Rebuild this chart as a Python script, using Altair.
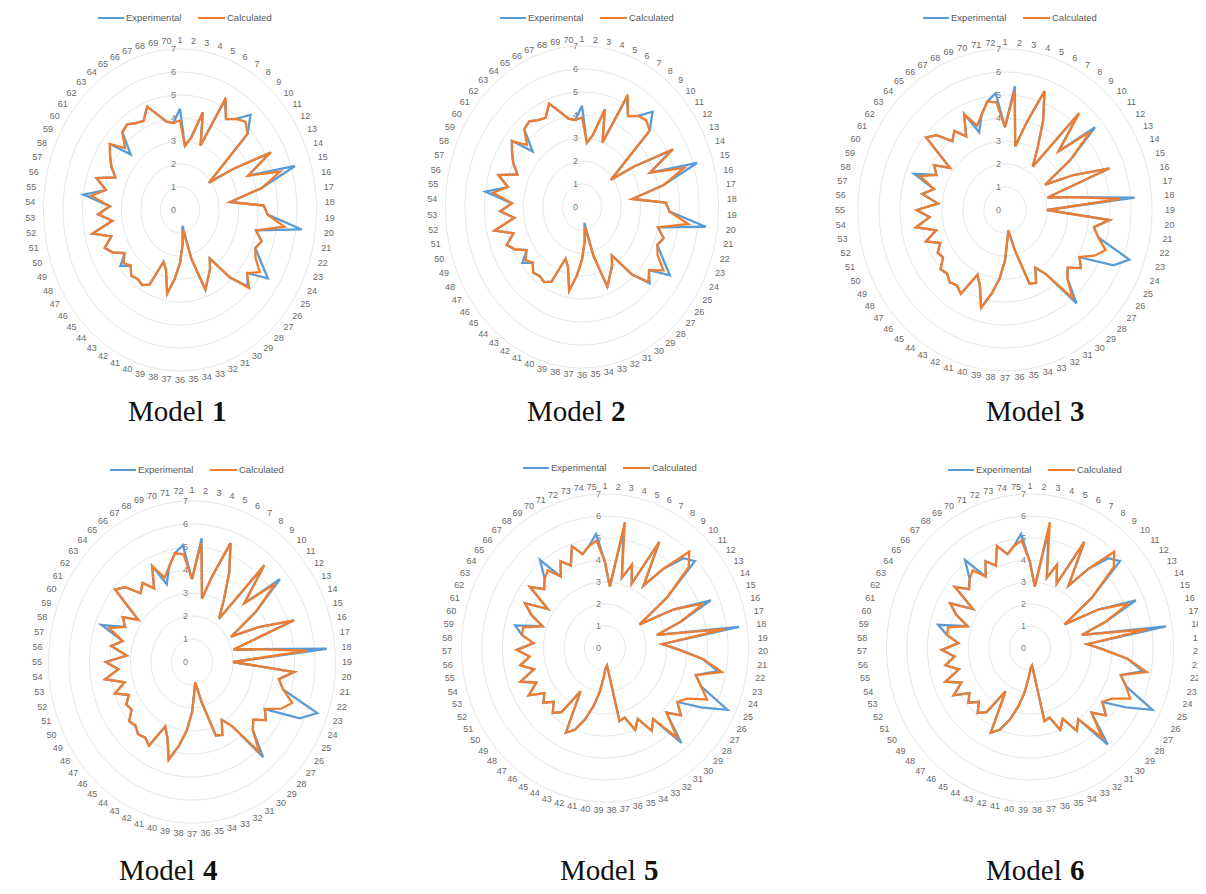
import altair as alt
import pandas as pd

# ---------------- data ----------------
m1_exp = [4.4, 2.8, 3.2, 4.4, 3.0, 5.3, 4.6, 4.9, 5.5, 4.8, 1.9, 3.2, 5.2, 3.8, 6.2, 4.3, 2.6, 4.3, 4.5, 6.3,
          4.0, 4.4, 4.2, 4.7, 5.4, 4.4, 4.8, 3.9, 2.6, 3.0, 3.3, 3.7, 2.2, 0.7, 1.5, 2.3, 3.0, 3.7, 2.7, 2.4,
          3.6, 3.8, 3.7, 3.8, 3.5, 3.9, 3.4, 3.9, 4.2, 3.7, 4.6, 3.5, 4.2, 3.6, 5.0, 3.9, 4.5, 3.6, 4.0, 4.3,
          4.6, 3.5, 4.5, 4.6, 4.4, 4.3, 4.8, 4.3, 3.9, 3.8]
m1_calc = [3.9, 2.8, 3.2, 4.4, 3.0, 5.4, 4.6, 4.9, 5.1, 4.8, 1.9, 3.2, 5.3, 3.8, 5.4, 4.3, 2.6, 4.3, 4.5, 5.4,
           4.0, 4.4, 4.2, 4.4, 4.9, 4.4, 4.9, 3.9, 2.6, 3.0, 3.3, 3.7, 2.2, 0.9, 1.5, 2.3, 3.0, 3.7, 2.7, 2.4,
           3.6, 3.8, 3.7, 3.8, 3.5, 3.7, 3.4, 3.9, 4.2, 3.7, 4.6, 3.5, 4.2, 3.6, 4.6, 3.9, 4.5, 3.6, 4.0, 4.3,
           4.6, 3.9, 4.5, 4.6, 4.4, 4.3, 4.8, 4.3, 3.9, 3.8]
m2_exp = [4.4, 2.8, 3.2, 4.4, 3.0, 5.3, 4.6, 4.9, 5.5, 4.8, 1.9, 3.2, 5.2, 3.8, 6.2, 4.3, 2.6, 4.3, 4.5, 6.4,
          4.0, 4.4, 4.2, 4.7, 5.4, 4.4, 4.8, 3.9, 2.6, 3.0, 3.3, 3.7, 2.2, 0.7, 1.5, 2.3, 3.0, 3.7, 2.7, 2.4,
          3.6, 3.8, 3.7, 3.8, 3.5, 3.9, 3.4, 3.9, 4.2, 3.7, 4.6, 3.5, 4.2, 3.6, 5.0, 3.9, 4.5, 3.6, 4.0, 4.3,
          4.6, 3.5, 4.5, 4.6, 4.4, 4.3, 4.8, 4.3, 3.9, 3.8]
m2_calc = [3.9, 2.8, 3.2, 4.4, 3.0, 5.4, 4.6, 4.9, 5.0, 4.8, 1.9, 3.2, 5.3, 3.8, 5.5, 4.3, 2.6, 4.3, 4.5, 5.5,
           4.0, 4.4, 4.2, 4.4, 5.0, 4.4, 4.7, 3.9, 2.6, 3.0, 3.3, 3.7, 2.2, 0.9, 1.5, 2.3, 3.0, 3.7, 2.7, 2.4,
           3.6, 3.8, 3.7, 3.8, 3.5, 3.7, 3.4, 3.9, 4.2, 3.7, 4.6, 3.5, 4.2, 3.6, 4.6, 3.9, 4.5, 3.6, 4.0, 4.3,
           4.6, 3.9, 4.5, 4.6, 4.4, 4.3, 4.8, 4.3, 3.9, 3.8]
m3_exp = [3.6, 5.4, 2.8, 3.9, 5.5, 4.3, 3.1, 2.3, 5.4, 3.6, 5.6, 3.8, 2.2, 3.6, 5.3, 2.1, 3.2, 6.2, 2.0, 5.0,
          4.3, 4.6, 6.3, 5.7, 4.1, 4.4, 3.9, 4.2, 5.3, 3.4, 2.9, 3.5, 3.4, 1.8, 0.9, 1.3, 2.2, 3.0, 3.7, 4.4,
          3.5, 3.1, 4.2, 4.0, 4.1, 3.9, 4.0, 3.6, 3.7, 3.4, 4.0, 3.4, 4.3, 3.6, 4.2, 3.2, 4.0, 3.5, 4.6, 3.6,
          3.9, 3.2, 4.9, 4.6, 3.9, 4.2, 3.7, 4.6, 3.6, 4.3, 4.8, 5.1]
m3_calc = [3.6, 5.2, 2.8, 3.9, 5.5, 4.3, 3.1, 2.3, 5.5, 3.6, 5.3, 3.8, 2.2, 3.6, 5.3, 2.1, 3.2, 5.5, 2.0, 5.0,
           4.3, 4.6, 5.1, 4.7, 4.1, 4.4, 3.9, 4.2, 5.0, 3.4, 2.9, 3.5, 3.4, 1.8, 0.9, 1.3, 2.2, 3.0, 3.7, 4.4,
           3.5, 3.1, 4.2, 4.0, 4.1, 3.9, 4.0, 3.6, 3.7, 3.4, 4.0, 3.4, 4.3, 3.6, 4.2, 3.2, 4.0, 3.5, 4.3, 3.6,
           3.9, 3.2, 4.9, 4.6, 3.9, 4.2, 3.7, 4.6, 3.9, 4.3, 4.8, 4.7]
m4_exp = [3.6, 5.4, 2.8, 3.9, 5.5, 4.3, 3.1, 2.3, 5.4, 3.6, 5.6, 3.8, 2.2, 3.6, 5.3, 2.1, 3.2, 6.6, 2.0, 5.0,
          4.3, 4.6, 6.5, 5.8, 4.1, 4.4, 3.9, 4.2, 5.4, 3.4, 2.9, 3.5, 3.4, 1.8, 0.9, 1.3, 2.2, 3.0, 3.7, 4.4,
          3.5, 3.1, 4.2, 4.0, 4.1, 3.9, 4.0, 3.6, 3.7, 3.4, 4.0, 3.4, 4.3, 3.6, 4.2, 3.2, 4.0, 3.5, 4.7, 3.6,
          3.9, 3.2, 4.9, 4.6, 3.9, 4.2, 3.7, 4.6, 3.6, 4.3, 4.8, 5.1]
m4_calc = [3.6, 5.2, 2.8, 3.9, 5.5, 4.3, 3.1, 2.3, 5.5, 3.6, 5.3, 3.8, 2.2, 3.6, 5.3, 2.1, 3.2, 5.6, 2.0, 5.0,
           4.3, 4.6, 5.2, 4.8, 4.1, 4.4, 3.9, 4.2, 5.1, 3.4, 2.9, 3.5, 3.4, 1.8, 0.9, 1.3, 2.2, 3.0, 3.7, 4.4,
           3.5, 3.1, 4.2, 4.0, 4.1, 3.9, 4.0, 3.6, 3.7, 3.4, 4.0, 3.4, 4.3, 3.6, 4.2, 3.2, 4.0, 3.5, 4.3, 3.6,
           3.9, 3.2, 4.9, 4.6, 3.9, 4.2, 3.7, 4.6, 3.9, 4.3, 4.8, 4.7]
m5_exp = [3.9, 2.8, 5.4, 3.3, 4.0, 3.2, 5.5, 3.4, 4.6, 5.6, 5.9, 3.8, 2.0, 3.8, 5.6, 3.9, 2.6, 6.6, 2.8, 3.6,
          4.8, 5.6, 4.6, 5.0, 6.6, 5.4, 4.3, 4.8, 4.2, 5.7, 4.0, 4.4, 3.6, 4.0, 3.3, 3.4, 0.8, 0.9, 1.3, 2.0,
          2.7, 3.4, 4.0, 4.3, 2.3, 3.6, 3.9, 3.5, 3.9, 3.6, 4.3, 3.7, 4.4, 3.6, 4.2, 3.7, 4.3, 3.5, 4.1, 4.5,
          3.2, 3.9, 4.4, 3.3, 4.6, 4.0, 4.3, 5.1, 3.9, 4.5, 4.1, 4.9, 4.4, 4.7, 5.2]
m5_calc = [3.9, 2.8, 5.8, 3.3, 4.0, 3.2, 5.5, 3.4, 4.6, 6.0, 5.5, 3.8, 2.0, 3.8, 5.2, 3.9, 2.6, 5.9, 2.8, 3.6,
           4.8, 5.8, 4.6, 5.0, 5.5, 4.6, 4.3, 4.8, 4.2, 5.4, 4.0, 4.4, 3.6, 4.0, 3.3, 3.4, 0.8, 0.9, 1.3, 2.0,
           2.7, 3.4, 4.0, 4.3, 2.3, 3.6, 3.9, 3.5, 3.9, 3.6, 4.3, 3.7, 4.4, 3.6, 4.2, 3.7, 4.3, 3.5, 4.1, 4.1,
           3.2, 3.9, 4.4, 3.3, 4.6, 4.0, 4.3, 4.5, 3.9, 4.5, 4.1, 4.9, 4.4, 4.7, 4.9]
m6_exp = [3.9, 2.8, 5.4, 3.3, 4.0, 3.2, 5.5, 3.4, 4.6, 5.6, 5.9, 3.8, 2.0, 3.8, 5.6, 3.9, 2.6, 6.7, 2.8, 3.6,
          4.8, 5.6, 4.6, 5.0, 6.6, 5.4, 4.3, 4.8, 4.2, 5.8, 4.0, 4.4, 3.6, 4.0, 3.3, 3.4, 0.8, 0.9, 1.3, 2.0,
          2.7, 3.4, 4.0, 4.3, 2.3, 3.6, 3.9, 3.5, 3.9, 3.6, 4.3, 3.7, 4.4, 3.6, 4.2, 3.7, 4.3, 3.5, 4.1, 4.6,
          3.2, 3.9, 4.4, 3.3, 4.6, 4.0, 4.3, 5.1, 3.9, 4.5, 4.1, 4.9, 4.4, 4.7, 5.2]
m6_calc = [3.9, 2.8, 5.8, 3.3, 4.0, 3.2, 5.5, 3.4, 4.6, 6.0, 5.5, 3.8, 2.0, 3.8, 5.2, 3.9, 2.6, 5.8, 2.8, 3.6,
           4.8, 5.8, 4.6, 5.0, 5.4, 4.6, 4.3, 4.8, 4.2, 5.4, 4.0, 4.4, 3.6, 4.0, 3.3, 3.4, 0.8, 0.9, 1.3, 2.0,
           2.7, 3.4, 4.0, 4.3, 2.3, 3.6, 3.9, 3.5, 3.9, 3.6, 4.3, 3.7, 4.4, 3.6, 4.2, 3.7, 4.3, 3.5, 4.1, 4.1,
           3.2, 3.9, 4.4, 3.3, 4.6, 4.0, 4.3, 4.5, 3.9, 4.5, 4.1, 4.9, 4.4, 4.7, 4.9]

ring_values = [1, 2, 3, 4, 5, 6, 7]
axis_labels = [0, 1, 2, 3, 4, 5, 6, 7]
series_names = ["Experimental", "Calculated"]
series_colors = ["#5B9BD5", "#ED7D31"]
title_word = "Model"
model_numbers = ["1", "2", "3", "4", "5", "6"]

# ---------------- layout (pixels) ----------------
COLS = [(8, 400), (408, 400), (808, 390)]
ROWS = [(8, 450), (458, 428)]

# cx, cy: centre; ux, uy: pixels per unit; lrx, lry: label ring radii in px
panels = [
    dict(exp=m1_exp, calc=m1_calc, num=0, col=0, row=0, cx=180, cy=210, ux=19.5, uy=23.0, lrx=150, lry=170, ly=18, tl=128, tb=421),
    dict(exp=m2_exp, calc=m2_calc, num=1, col=1, row=0, cx=582, cy=207, ux=19.5, uy=23.0, lrx=150, lry=168, ly=18, tl=527, tb=421),
    dict(exp=m3_exp, calc=m3_calc, num=2, col=2, row=0, cx=1005, cy=210, ux=21.0, uy=23.0, lrx=165, lry=168, ly=18, tl=986, tb=421),
    dict(exp=m4_exp, calc=m4_calc, num=3, col=0, row=1, cx=192, cy=662, ux=20.5, uy=23.0, lrx=155, lry=172, ly=470, tl=119, tb=880),
    dict(exp=m5_exp, calc=m5_calc, num=4, col=1, row=1, cx=605, cy=648, ux=20.5, uy=22.0, lrx=158, lry=162, ly=468, tl=560, tb=880),
    dict(exp=m6_exp, calc=m6_calc, num=5, col=2, row=1, cx=1030, cy=648, ux=20.5, uy=22.0, lrx=168, lry=162, ly=470, tl=986, tb=880),
]

LABEL_FONT = "Liberation Sans"


def build_panel(p):
    ox, W = COLS[p["col"]]
    oy, H = ROWS[p["row"]]
    cx, cy, ux, uy = p["cx"], p["cy"], p["ux"], p["uy"]
    N = len(p["exp"])
    xs = alt.Scale(domain=[-(cx - ox) / ux, (ox + W - cx) / ux], nice=False, zero=False)
    ys = alt.Scale(domain=[-(oy + H - cy) / uy, (cy - oy) / uy], nice=False, zero=False)
    X = lambda: alt.X("x:Q", scale=xs, axis=None)
    Y = lambda: alt.Y("y:Q", scale=ys, axis=None)

    ring_rows = [{"ring": r, "k": k} for r in ring_values for k in range(121)]
    rings = alt.Chart(pd.DataFrame(ring_rows)).transform_calculate(
        x="datum.ring*sin(2*PI*datum.k/120)", y="datum.ring*cos(2*PI*datum.k/120)"
    ).mark_line(color="#e6e6e6", strokeWidth=1).encode(
        x=X(), y=Y(), detail="ring:N", order="k:Q"
    )

    axl = alt.Chart(pd.DataFrame({"v": axis_labels})).transform_calculate(
        x="0", y="datum.v"
    ).mark_text(align="right", baseline="middle", dx=-4, fontSize=9, color="#7a7a7a", font=LABEL_FONT).encode(
        x=X(), y=Y(), text="v:Q"
    )

    kx = p["lrx"] / ux
    ky = p["lry"] / uy
    catl = alt.Chart(pd.DataFrame({"idx": list(range(1, N + 1))})).transform_calculate(
        th=f"2*PI*(datum.idx-1)/{N}"
    ).transform_calculate(
        x=f"{kx}*sin(datum.th)", y=f"{ky}*cos(datum.th)"
    ).mark_text(align="center", baseline="middle", fontSize=9, color="#6a6a6a", font=LABEL_FONT, clip=True).encode(
        x=X(), y=Y(), text="idx:Q"
    )

    layers = [rings, axl, catl]
    for name, vals, color in zip(series_names, [p["exp"], p["calc"]], series_colors):
        rows = [{"series": name, "idx": i + 1, "ord": i + 1, "value": v} for i, v in enumerate(vals)]
        rows.append({"series": name, "idx": 1, "ord": N + 1, "value": vals[0]})
        line = alt.Chart(pd.DataFrame(rows)).transform_calculate(
            th=f"2*PI*(datum.idx-1)/{N}"
        ).transform_calculate(
            x="datum.value*sin(datum.th)", y="datum.value*cos(datum.th)"
        ).mark_line(color=color, strokeWidth=2.3, strokeJoin="miter").encode(
            x=X(), y=Y(), order="ord:Q"
        )
        layers.append(line)

    lx = cx - ox
    lyy = p["ly"] - oy
    leg_offsets = [(-82, -56), (18, 45)]
    for name, color, (a, b) in zip(series_names, series_colors, leg_offsets):
        d = pd.DataFrame({"label": [name]})
        layers.append(alt.Chart(d).mark_rule(color=color, strokeWidth=2).encode(
            x=alt.value(lx + a), x2=alt.value(lx + b), y=alt.value(lyy)))
        layers.append(alt.Chart(d).mark_text(align="left", baseline="middle", fontSize=9.5,
                                             color="#595959", font=LABEL_FONT).encode(
            x=alt.value(lx + b + 2), y=alt.value(lyy), text="label:N"))

    td = pd.DataFrame({"word": [title_word], "num": [model_numbers[p["num"]]]})
    tx = p["tl"] - ox
    ty = p["tb"] - oy
    layers.append(alt.Chart(td).mark_text(align="left", baseline="alphabetic", fontSize=29,
                                          font="Liberation Serif", color="#111111").encode(
        x=alt.value(tx), y=alt.value(ty), text="word:N"))
    layers.append(alt.Chart(td).mark_text(align="left", baseline="alphabetic", fontSize=29,
                                          font="Liberation Serif", fontWeight="bold", color="#111111").encode(
        x=alt.value(tx + 84), y=alt.value(ty), text="num:N"))

    return alt.layer(*layers).properties(width=W, height=H)


charts = [build_panel(p) for p in panels]
chart = alt.concat(
    *charts, columns=3, spacing=0, bounds="flush", padding=0, background="white"
).configure_view(stroke="transparent", strokeWidth=0)

chart.save("out.html", embed_options={"renderer": "svg", "actions": False})
